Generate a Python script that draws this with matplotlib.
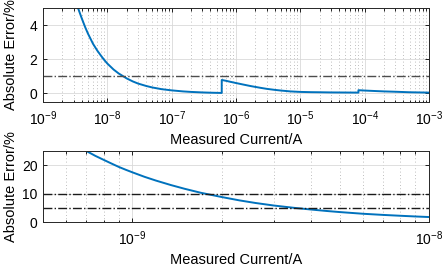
import numpy as np
import matplotlib
matplotlib.use("Agg")
import matplotlib.pyplot as plt
from matplotlib.ticker import LogLocator, NullFormatter

plt.rcParams["font.family"] = ["Liberation Sans", "DejaVu Sans"]
plt.rcParams["mathtext.default"] = "regular"

# measured current (A) and absolute error (%)
current = [6.5e-10, 7e-10, 7.5e-10, 8e-10, 8.5e-10, 9e-10, 9.5e-10, 1e-9, 1.1e-9, 1.2e-9,
           1.35e-9, 1.5e-9, 1.7e-9, 2e-9, 2.3e-9, 2.6e-9, 3e-9, 3.5e-9, 4e-9, 4.5e-9,
           5e-9, 6e-9, 7e-9, 8e-9, 9e-9, 1e-8, 1.25e-8, 1.5e-8, 2e-8, 2.5e-8,
           3e-8, 4e-8, 5e-8, 7e-8, 1e-7, 1.5e-7, 2e-7, 3e-7, 4e-7, 6e-7,
           6e-7, 7e-7, 8e-7, 1e-6, 1.3e-6, 1.7e-6, 2.4e-6, 3e-6, 4e-6, 5e-6,
           7e-6, 1e-5, 1.5e-5, 2e-5, 3e-5, 5e-5, 8e-5,
           8e-5, 1e-4, 1.5e-4, 2e-4, 3e-4, 5e-4, 7e-4, 1e-3]
error = [27.0, 25.0, 23.3, 21.9, 20.6, 19.4, 18.4, 17.5, 15.9, 14.6,
         13.0, 11.7, 10.3, 8.8, 7.6, 6.7, 5.8, 5.0, 4.4, 3.9,
         3.5, 2.9, 2.5, 2.2, 1.95, 1.75, 1.4, 1.17, 0.88, 0.7,
         0.58, 0.44, 0.35, 0.25, 0.18, 0.12, 0.09, 0.06, 0.045, 0.03,
         0.79, 0.74, 0.69, 0.61, 0.52, 0.43, 0.33, 0.27, 0.21, 0.17,
         0.12, 0.09, 0.075, 0.07, 0.06, 0.055, 0.05,
         0.19, 0.17, 0.14, 0.12, 0.10, 0.07, 0.06, 0.05]

limit_top = [1]
limit_bottom = [10, 5]

blue = "#0072BD"

fig = plt.figure(figsize=(4.42, 2.68), dpi=100)
ax1 = fig.add_axes([0.0973, 0.6194, 0.8733, 0.3507])
ax2 = fig.add_axes([0.0973, 0.1716, 0.8733, 0.2650])


def style(ax):
    ax.set_xscale("log")
    ax.grid(True, which="major", color="#d9d9d9", linewidth=0.6)
    ax.grid(True, which="minor", axis="x", color="#a8a8a8", linestyle=(0, (1, 3)), linewidth=0.6)
    ax.tick_params(which="both", direction="in", top=True, right=True, labelsize=10, width=0.6)
    ax.tick_params(which="major", length=3, pad=5.5)
    ax.tick_params(which="minor", length=1.8)
    ax.tick_params(axis="y", pad=4)
    ax.xaxis.set_minor_locator(LogLocator(base=10, subs=np.arange(2, 10), numticks=20))
    ax.xaxis.set_minor_formatter(NullFormatter())
    for s in ax.spines.values():
        s.set_linewidth(0.7)
        s.set_color("#262626")
    ax.set_axisbelow(True)


style(ax1)
ax1.plot(current, error, color=blue, linewidth=1.4)
for v in limit_top:
    ax1.axhline(v, color="#4d4d4d", linestyle="-.", linewidth=1.0)
ax1.set_xlim(1e-9, 1e-3)
ax1.set_ylim(-0.5, 5)
ax1.set_yticks([0, 2, 4])
ax1.xaxis.set_major_locator(LogLocator(base=10, numticks=10))
ax1.set_xlabel("Measured Current/A", fontsize=10.5)
ax1.set_ylabel("Absolute Error/%", fontsize=10.5)
ax1.xaxis.set_label_coords(0.5, -0.33)
ax1.yaxis.set_label_coords(-0.065, 0.5)

style(ax2)
ax2.plot(current, error, color=blue, linewidth=1.4)
for v in limit_bottom:
    ax2.axhline(v, color="#1a1a1a", linestyle="-.", linewidth=1.0)
ax2.set_xlim(5e-10, 1e-8)
ax2.set_ylim(0, 25)
ax2.set_yticks([0, 10, 20])
ax2.set_xlabel("Measured Current/A", fontsize=10.5)
ax2.set_ylabel("Absolute Error/%", fontsize=10.5)
ax2.xaxis.set_label_coords(0.5, -0.43)
ax2.yaxis.set_label_coords(-0.065, 0.5)

fig.savefig("out.png", dpi=100)
